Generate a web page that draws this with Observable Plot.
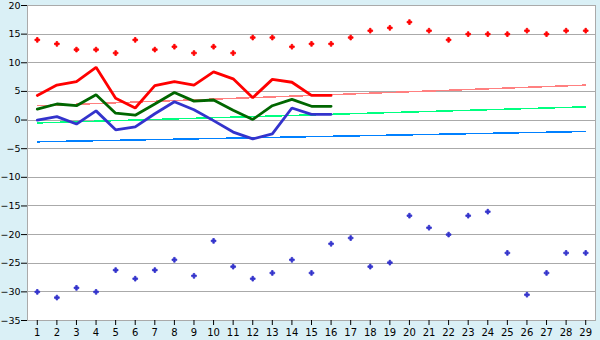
<!DOCTYPE html>
<html><head><meta charset="utf-8">
<script src="https://cdn.jsdelivr.net/npm/d3@7"></script>
<script src="https://cdn.jsdelivr.net/npm/@observablehq/plot@0.6"></script>
<style>html,body{margin:0;padding:0;background:#daf0f6;}</style>
</head><body><div id="chart"></div><script>
const days = [1,2,3,4,5,6,7,8,9,10,11,12,13,14,15,16,17,18,19,20,21,22,23,24,25,26,27,28,29];
const lineDays = [1,2,3,4,5,6,7,8,9,10,11,12,13,14,15,16];
const yTicks = [20,15,10,5,0,-5,-10,-15,-20,-25,-30,-35];

const maxPoints = [14.0,13.3,12.3,12.3,11.7,14.0,12.3,12.8,11.7,12.8,11.7,14.4,14.4,12.8,13.3,13.3,14.4,15.6,16.1,17.1,15.6,14.0,15.0,15.0,15.0,15.6,15.0,15.6,15.6];
const minPoints = [-30.0,-31.0,-29.3,-30.0,-26.2,-27.7,-26.2,-24.4,-27.2,-21.1,-25.6,-27.7,-26.7,-24.4,-26.7,-21.6,-20.6,-25.6,-24.9,-16.7,-18.8,-20.0,-16.7,-16.0,-23.2,-30.5,-26.7,-23.2,-23.2];

const redLine = [4.3,6.1,6.7,9.2,3.8,2.1,6.0,6.7,6.1,8.4,7.2,3.9,7.1,6.6,4.3,4.3];
const greenLine = [1.9,2.8,2.5,4.4,1.2,0.85,2.8,4.8,3.3,3.5,1.7,0.1,2.5,3.6,2.4,2.4];
const blueLine = [0.0,0.6,-0.7,1.6,-1.7,-1.2,1.1,3.2,1.8,-0.1,-2.1,-3.3,-2.4,2.1,1.0,1.0];

const trendDays = [1, 29];
const redTrend = [2.5, 6.1];
const greenTrend = [-0.5, 2.3];
const blueTrend = [-3.8, -2.0];

const pts = (xs, ys) => xs.map((x, i) => ({x, y: ys[i]}));

const chart = Plot.plot({
  width: 600,
  height: 340,
  marginTop: 5,
  marginBottom: 20,
  marginLeft: 27,
  marginRight: 5,
  style: {background: "#daf0f6", fontFamily: "DejaVu Sans, Verdana, sans-serif", fontSize: "10px", color: "black"},
  x: {domain: [0.5, 29.5], label: null},
  y: {domain: [-35, 20], label: null},
  marks: [
    Plot.frame({fill: "white", stroke: null}),
    Plot.ruleY(yTicks, {stroke: "#aaaaaa", strokeWidth: 1, shapeRendering: "crispEdges"}),
    Plot.frame({stroke: "#aaaaaa", strokeWidth: 1, shapeRendering: "crispEdges"}),
    Plot.axisY({ticks: yTicks, tickSize: 6, tickPadding: 1, fontSize: 9.5, stroke: "black", fill: "black", label: null}),
    Plot.axisX({ticks: days, tickSize: 5, tickPadding: 3, stroke: "black", fill: "black", label: null}),
    Plot.line(pts(trendDays, redTrend), {x: "x", y: "y", stroke: "#ff8080", strokeWidth: 1.5, shapeRendering: "crispEdges"}),
    Plot.line(pts(trendDays, greenTrend), {x: "x", y: "y", stroke: "#00ff80", strokeWidth: 1.5, shapeRendering: "crispEdges"}),
    Plot.line(pts(trendDays, blueTrend), {x: "x", y: "y", stroke: "#0080ff", strokeWidth: 1.5, shapeRendering: "crispEdges"}),
    Plot.line(pts(lineDays, redLine), {x: "x", y: "y", stroke: "#ff0000", strokeWidth: 2.8, strokeLinejoin: "miter"}),
    Plot.line(pts(lineDays, greenLine), {x: "x", y: "y", stroke: "#006600", strokeWidth: 2.8, strokeLinejoin: "miter"}),
    Plot.line(pts(lineDays, blueLine), {x: "x", y: "y", stroke: "#3333cc", strokeWidth: 2.8, strokeLinejoin: "miter"}),
    Plot.dot(pts(days, maxPoints), {x: "x", y: "y", symbol: "cross", fill: "#ff0000", stroke: "#ff0000", strokeWidth: 0.8, r: 2.0}),
    Plot.dot(pts(days, minPoints), {x: "x", y: "y", symbol: "cross", fill: "#3333cc", stroke: "#3333cc", strokeWidth: 0.8, r: 2.0})
  ]
});
document.getElementById("chart").appendChild(chart);
</script></body></html>
